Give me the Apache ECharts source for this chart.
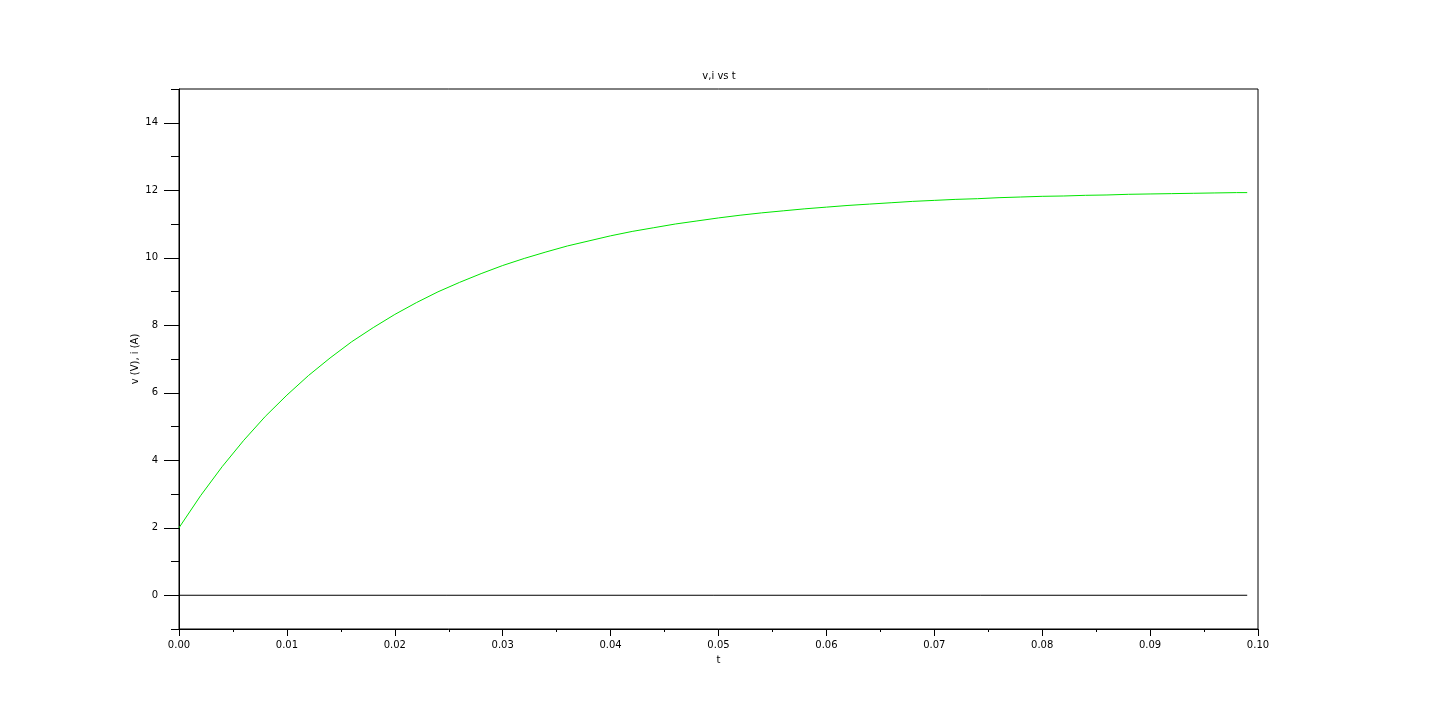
<!DOCTYPE html>
<html>
<head>
<meta charset="utf-8">
<script src="https://cdn.jsdelivr.net/npm/echarts@6/dist/echarts.min.js"></script>
<style>html,body{margin:0;padding:0;background:#fff;}#c{width:1438px;height:719px;}</style>
</head>
<body>
<div id="c"></div>
<script>
// time samples (s)
const tValues = [0, 0.002, 0.004, 0.006, 0.008, 0.010, 0.012, 0.014, 0.016, 0.018,
  0.020, 0.022, 0.024, 0.026, 0.028, 0.030, 0.032, 0.034, 0.036, 0.038,
  0.040, 0.042, 0.044, 0.046, 0.048, 0.050, 0.052, 0.054, 0.056, 0.058,
  0.060, 0.062, 0.064, 0.066, 0.068, 0.070, 0.072, 0.074, 0.076, 0.078,
  0.080, 0.082, 0.084, 0.086, 0.088, 0.090, 0.092, 0.094, 0.096, 0.098, 0.099];
// voltage/current curve
const vValues = [2.00, 2.95, 3.81, 4.59, 5.30, 5.93, 6.51, 7.03, 7.51, 7.93,
  8.32, 8.67, 8.99, 9.27, 9.53, 9.77, 9.98, 10.17, 10.35, 10.50,
  10.65, 10.78, 10.89, 11.00, 11.09, 11.18, 11.26, 11.33, 11.39, 11.45,
  11.50, 11.55, 11.59, 11.63, 11.67, 11.70, 11.73, 11.75, 11.78, 11.80,
  11.82, 11.83, 11.85, 11.86, 11.88, 11.89, 11.90, 11.91, 11.92, 11.93, 11.93];
// zero line
const zeroT = [0, 0.099];
const zeroValues = [0, 0];

const font = 'DejaVu Sans';
const chart = echarts.init(document.getElementById('c'));
chart.setOption({
  animation: false,
  backgroundColor: '#fff',
  title: {
    text: 'v,i vs t', left: 'center', top: 66,
    textStyle: { fontFamily: font, fontSize: 10, fontWeight: 'normal', color: '#000' }
  },
  grid: {
    left: 179, right: 180, top: 89, bottom: 90,
    show: true, borderColor: '#000', borderWidth: 1, backgroundColor: 'transparent'
  },
  xAxis: {
    type: 'value', min: 0, max: 0.1, interval: 0.01,
    name: 't', nameLocation: 'middle', nameGap: 26,
    nameTextStyle: { fontFamily: font, fontSize: 10, color: '#000' },
    axisLine: { show: true, onZero: false, lineStyle: { color: '#000', width: 1 } },
    axisTick: { show: true, length: 7, lineStyle: { color: '#000' } },
    minorTick: { show: true, splitNumber: 2, length: 3, lineStyle: { color: '#000' } },
    splitLine: { show: false },
    axisLabel: {
      fontFamily: font, fontSize: 10, color: '#000', margin: 11,
      formatter: v => v.toFixed(2)
    }
  },
  yAxis: [
    {
      type: 'value', position: 'left', min: -1, max: 15, interval: 2,
      name: 'v (V), i (A)', nameLocation: 'middle', nameGap: 39,
      nameTextStyle: { fontFamily: font, fontSize: 10, color: '#000' },
      axisLine: { show: true, onZero: false, lineStyle: { color: '#000', width: 1 } },
      axisTick: { show: true, length: 8, lineStyle: { color: '#000' } },
      minorTick: { show: true, splitNumber: 2, length: 15, lineStyle: { color: '#000' } },
      splitLine: { show: false },
      axisLabel: { show: false }
    },
    {
      type: 'value', position: 'left', min: -1, max: 15, interval: 1,
      axisLine: { show: false },
      axisTick: { show: false },
      splitLine: { show: false },
      axisLabel: {
        fontFamily: font, fontSize: 10, color: '#000', margin: 21,
        formatter: v => (v >= 0 && v <= 14 && v % 2 === 0) ? String(v) : ''
      }
    }
  ],
  series: [
    {
      type: 'line', name: 'v', yAxisIndex: 0, showSymbol: false, symbol: 'none',
      data: tValues.map((t, i) => [t, vValues[i]]),
      lineStyle: { color: '#00e600', width: 1 }
    },
    {
      type: 'line', name: 'i', yAxisIndex: 0, showSymbol: false, symbol: 'none',
      data: zeroT.map((t, i) => [t, zeroValues[i]]),
      lineStyle: { color: '#000', width: 1 }
    }
  ]
});
</script>
</body>
</html>
